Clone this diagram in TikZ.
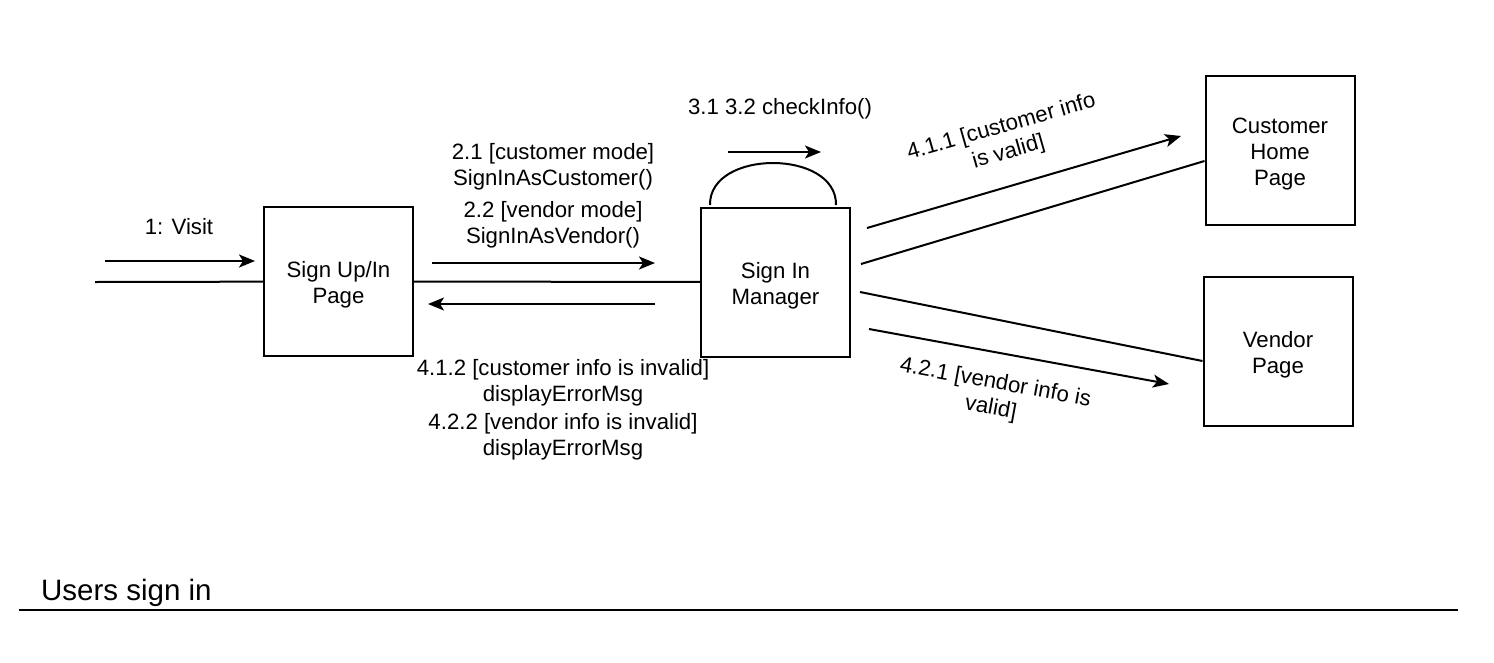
\documentclass[tikz,border=0pt]{standalone}
\usepackage{fontspec}
\setmainfont{Liberation Sans}
\usetikzlibrary{arrows.meta}
\begin{document}
\begin{tikzpicture}[x=1pt,y=-1pt,
  box/.style={draw,line width=2pt,minimum width=149pt,minimum height=149pt,inner sep=0pt},
  boxtext/.style={align=center,inner sep=0pt,yshift=-3.5pt,font=\fontsize{22.2}{26}\selectfont},
  lbl/.style={align=center,inner sep=0pt,font=\fontsize{22.2}{26}\selectfont},
  conn/.style={line width=2pt},
  arr/.style={line width=2pt,-{Stealth[length=16pt,width=13pt,inset=4pt]}}]
\useasboundingbox (0,0) rectangle (1494,662);
% boxes
\node[box,label={[boxtext]center:Sign Up/In\\Page}] (signup) at (338.5,281.5) {};
\node[box,label={[boxtext]center:Sign In\\Manager}] (manager) at (775.5,282) {};
\node[box,label={[boxtext]center:Customer\\Home\\Page}] (customer) at (1280,150.5) {};
\node[box,label={[boxtext]center:Vendor\\Page}] (vendor) at (1278,351.5) {};
% entry
\coordinate (entry) at (95,282);
\draw[conn] (entry) -- (signup);
\coordinate (va) at (105,261);
\coordinate (vb) at (255,261);
\draw[arr] (va) -- (vb);
\node[lbl] (visit) at (179,227) {1: Visit};
% signup <-> manager
\draw[conn] (signup) -- (manager);
\coordinate (ra) at (432,263);
\coordinate (rb) at (655,263);
\draw[arr] (ra) -- (rb);
\coordinate (la) at (655,304);
\coordinate (lb) at (428,304);
\draw[arr] (la) -- (lb);
\node[lbl] (mode) at (553,196) {2.1 [customer mode]\\SignInAsCustomer()\\[6pt]2.2 [vendor mode]\\SignInAsVendor()};
\node[lbl] (err) at (563,410) {4.1.2 [customer info is invalid]\\displayErrorMsg\\[2pt]4.2.2 [vendor info is invalid]\\displayErrorMsg};
% self loop
\coordinate (sl) at (710,205);
\coordinate (sr) at (836,205);
\draw[conn] (sl) .. controls (709,149) and (837,149) .. (sr);
\coordinate (ca) at (728,152);
\coordinate (cb) at (821,152);
\draw[arr] (ca) -- (cb);
\node[lbl] (check) at (780,109) {3.1 3.2 checkInfo()};
% customer
\coordinate (c1) at (861,264);
\draw[conn] (c1) -- (customer.west |- 0,161);
\coordinate (c2a) at (867,228);
\coordinate (c2b) at (1181,136);
\draw[arr] (c2a) -- (c2b);
\node[lbl,rotate=16] (cval) at (1005,140) {4.1.1 [customer info\\is valid]};
% vendor
\coordinate (v1) at (860,292);
\draw[conn] (v1) -- (vendor.west |- 0,361);
\coordinate (v2a) at (869,329);
\coordinate (v2b) at (1169,384);
\draw[arr] (v2a) -- (v2b);
\node[lbl,rotate=-10.4] (vval) at (993,396) {4.2.1 [vendor info is\\valid]};
% title
\node[anchor=base west,inner sep=0pt,font=\fontsize{29.5}{34}\selectfont] (title) at (41,600) {Users sign in};
\coordinate (ua) at (19,610);
\coordinate (ub) at (1458,610);
\draw[line width=2pt] (ua) -- (ub);
\end{tikzpicture}
\end{document}
